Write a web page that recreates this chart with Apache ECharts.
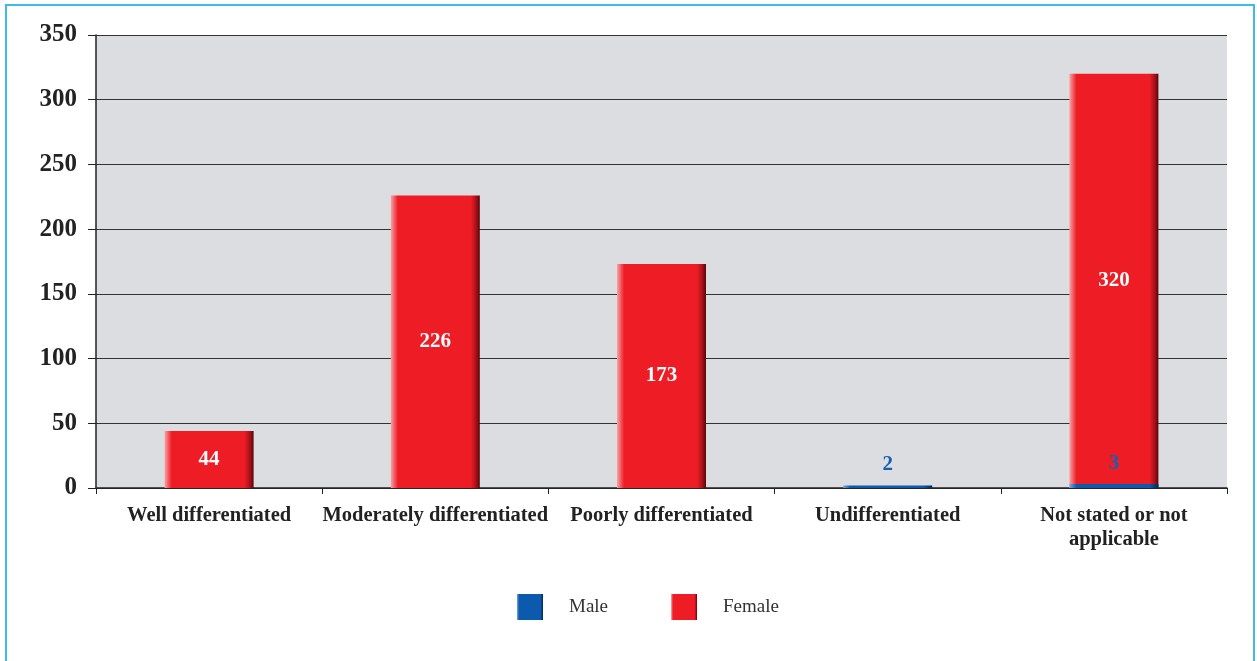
<!DOCTYPE html>
<html><head><meta charset="utf-8">
<script src="https://cdn.jsdelivr.net/npm/echarts@6/dist/echarts.min.js"></script>
<style>
html,body{margin:0;padding:0;background:#fff;}
#frame{position:absolute;left:5px;top:4px;width:1246px;height:680px;border:2px solid #3dbbea;border-bottom:none;}
#main{position:absolute;left:0;top:0;width:1257px;height:661px;}
</style></head>
<body>
<div id="frame"></div>
<div id="main"></div>
<script>
const categories = ['Well differentiated','Moderately differentiated','Poorly differentiated','Undifferentiated','Not stated or not\napplicable'];
const maleValues = [null, null, null, 2, 3];
const femaleValues = [44, 226, 173, null, 320];
const yTicks = {min: 0, max: 350, interval: 50};

const serif = '"Liberation Serif", "Times New Roman", serif';
const redGrad = {type:'linear',x:0,y:0,x2:1,y2:0,colorStops:[
  {offset:0,color:'#f7a3a8'},{offset:0.08,color:'#ee1c25'},{offset:0.9,color:'#ee1c25'},{offset:0.96,color:'#a3111a'},{offset:1,color:'#5a0508'}]};
const blueGrad = {type:'linear',x:0,y:0,x2:1,y2:0,colorStops:[
  {offset:0,color:'#7ea8d8'},{offset:0.08,color:'#0b5aad'},{offset:0.9,color:'#0b5aad'},{offset:1,color:'#032855'}]};

const chart = echarts.init(document.getElementById('main'), null, {renderer:'canvas'});
chart.setOption({
  animation:false,
  backgroundColor:'transparent',
  grid:{left:96,right:30,top:35,bottom:173,show:true,backgroundColor:'#dcdde0',borderWidth:0},
  legend:{
    data:['Male','Female'],
    icon:'rect',
    left:512, top:589, itemWidth:26, itemHeight:26, itemGap:63,
    textStyle:{fontFamily:serif,fontSize:19,color:'#333',padding:[0,0,0,21]}
  },
  xAxis:{
    type:'category', data:categories,
    axisLine:{lineStyle:{color:'#222',width:1.5}},
    axisTick:{show:true,length:6,lineStyle:{color:'#222'}},
    axisLabel:{fontFamily:serif,fontWeight:'bold',fontSize:20.5,color:'#222',margin:16,lineHeight:24,interval:0}
  },
  yAxis:{
    type:'value', min:yTicks.min, max:yTicks.max, interval:yTicks.interval,
    axisLine:{show:true,lineStyle:{color:'#222',width:1.5}},
    axisTick:{show:true,length:8,lineStyle:{color:'#222'}},
    axisLabel:{fontFamily:serif,fontWeight:'bold',fontSize:25,color:'#222',margin:19},
    splitLine:{lineStyle:{color:'#333',width:1.2}}
  },
  series:[
    {name:'Female',type:'bar',data:femaleValues,barWidth:89,barGap:'-100%',
     itemStyle:{color:redGrad},
     label:{show:true,position:'inside',color:'#fff',fontFamily:serif,fontWeight:'bold',fontSize:21}},
    {name:'Male',type:'bar',data:maleValues,barWidth:89,barGap:'-100%',z:3,
     itemStyle:{color:blueGrad},
     label:{show:true,position:'top',distance:10,color:'#1560b0',fontFamily:serif,fontWeight:'bold',fontSize:21}}
  ]
});
</script>
</body></html>
